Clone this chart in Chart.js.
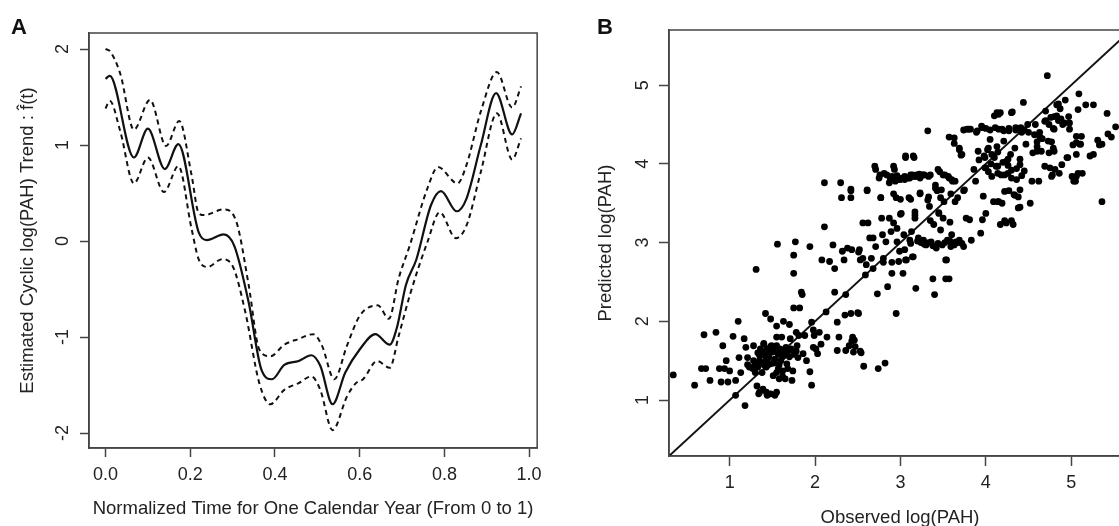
<!DOCTYPE html>
<html>
<head>
<meta charset="utf-8">
<script src="https://cdn.jsdelivr.net/npm/chart.js@4"></script>
<style>
html, body { margin: 0; padding: 0; background: #fff; overflow: hidden; width: 1119px; height: 526px; }
#wrapA { position: absolute; left: 0; top: 0; width: 560px; height: 540px; }
#wrapB { position: absolute; left: 560px; top: 0; width: 600px; height: 540px; }
.panel { position: absolute; font: bold 22px "Liberation Sans", Arial, sans-serif; color: #111; line-height: 1; }
</style>
</head>
<body>
<div id="wrapA"><canvas id="chartA"></canvas></div>
<div id="wrapB"><canvas id="chartB"></canvas></div>
<div class="panel" style="left:11px;top:16px">A</div>
<div class="panel" style="left:597px;top:16px">B</div>
<script>
// ---- panel A : estimated cyclic trend with confidence band ----
const trendX = [0, 0.01, 0.067, 0.10, 0.14, 0.172, 0.22, 0.239, 0.279, 0.304, 0.338, 0.368, 0.393, 0.422, 0.456, 0.486, 0.507, 0.536, 0.566, 0.60, 0.637, 0.671, 0.688, 0.709, 0.734, 0.768, 0.792, 0.829, 0.852, 0.886, 0.922, 0.96, 0.981];
const trendY = [1.69, 1.72, 0.87, 1.17, 0.75, 1.01, 0.09, 0.01, 0.07, -0.05, -0.64, -1.34, -1.44, -1.29, -1.25, -1.19, -1.30, -1.70, -1.37, -1.13, -0.97, -1.08, -0.90, -0.46, -0.19, 0.37, 0.52, 0.31, 0.44, 1.00, 1.54, 1.11, 1.33];

const upperX = [0, 0.01, 0.035, 0.067, 0.105, 0.143, 0.174, 0.203, 0.22, 0.233, 0.279, 0.309, 0.338, 0.363, 0.389, 0.422, 0.456, 0.49, 0.511, 0.54, 0.57, 0.60, 0.643, 0.669, 0.692, 0.718, 0.76, 0.785, 0.831, 0.852, 0.886, 0.924, 0.96, 0.981];
const upperY = [2.0, 1.98, 1.74, 1.16, 1.47, 0.99, 1.25, 0.69, 0.29, 0.27, 0.33, 0.20, -0.46, -1.13, -1.20, -1.08, -1.02, -0.97, -1.09, -1.44, -1.09, -0.78, -0.67, -0.81, -0.39, -0.05, 0.55, 0.77, 0.60, 0.79, 1.35, 1.76, 1.39, 1.61];

const lowerX = [0, 0.01, 0.035, 0.067, 0.10, 0.138, 0.172, 0.203, 0.22, 0.241, 0.275, 0.30, 0.33, 0.363, 0.389, 0.422, 0.456, 0.486, 0.507, 0.536, 0.57, 0.591, 0.608, 0.641, 0.671, 0.692, 0.718, 0.76, 0.789, 0.827, 0.852, 0.886, 0.924, 0.96, 0.981];
const lowerY = [1.38, 1.46, 1.14, 0.60, 0.87, 0.51, 0.78, 0.13, -0.19, -0.27, -0.19, -0.26, -0.74, -1.48, -1.70, -1.55, -1.48, -1.41, -1.55, -1.97, -1.62, -1.48, -1.44, -1.25, -1.32, -0.99, -0.57, -0.01, 0.30, 0.03, 0.16, 0.72, 1.33, 0.85, 1.07];

const aTicksX = [0, 0.2, 0.4, 0.6, 0.8, 1.0];
const aTicksY = [-2, -1, 0, 1, 2];

// ---- panel B : observed vs predicted ----
const obsX = [0.34, 0.59, 0.70, 0.84, 0.67, 0.72, 0.77, 0.88, 0.90, 0.92, 0.94, 0.96, 0.98, 1.00, 1.04, 1.07, 1.07, 1.10, 1.11, 1.13,
  1.17, 1.18, 1.19, 1.21, 1.21, 1.23, 1.28, 1.28, 1.30, 1.32, 1.31, 1.33, 1.34, 1.35, 1.36, 1.37, 1.38, 1.39, 1.40, 1.41,
  1.42, 1.43, 1.42, 1.44, 1.44, 1.46, 1.48, 1.48, 1.49, 1.50, 1.51, 1.53, 1.53, 1.55, 1.55, 1.55, 1.56, 1.57, 1.58, 1.59,
  1.60, 1.61, 1.62, 1.63, 1.64, 1.65, 1.66, 1.67, 1.69, 1.70, 1.71, 1.73, 1.74, 1.75, 1.75, 1.75, 1.77, 1.78, 1.79, 1.80,
  1.81, 1.82, 1.84, 1.85, 1.86, 1.88, 1.90, 1.94, 1.94, 1.96, 1.96, 1.98, 1.98, 1.99, 2.01, 2.03, 2.05, 2.07, 2.08, 2.11,
  2.11, 2.13, 2.14, 2.17, 2.21, 2.23, 2.23, 2.26, 2.26, 2.28, 2.30, 2.31, 2.32, 2.34, 2.35, 2.36, 2.36, 2.38, 2.40, 2.42,
  2.42, 2.43, 2.44, 2.45, 2.46, 2.50, 2.52, 2.53, 2.54, 2.56, 2.57, 2.59, 2.61, 2.62, 2.64, 2.66, 2.68, 2.70, 2.71, 2.73,
  2.74, 2.76, 2.77, 2.78, 2.79, 2.80, 2.82, 2.83, 2.84, 2.85, 2.87, 2.88, 2.89, 2.90, 2.92, 2.92, 2.94, 2.95, 2.96, 2.96,
  2.98, 2.95, 2.99, 3.01, 3.02, 3.03, 3.04, 3.05, 3.06, 3.07, 3.09, 3.10, 3.11, 3.13, 3.14, 3.15, 3.16, 3.17, 3.18, 3.19,
  3.21, 3.23, 3.25, 3.27, 3.30, 3.32, 3.32, 3.34, 3.35, 3.36, 3.38, 3.39, 3.40, 3.41, 3.42, 3.44, 3.45, 3.47, 3.48, 3.49,
  3.51, 3.52, 3.53, 3.54, 3.55, 3.57, 3.57, 3.59, 3.60, 3.61, 3.63, 3.64, 3.65, 3.69, 3.69, 3.72, 3.74, 3.75, 3.77, 3.78,
  3.81, 3.82, 3.83, 3.86, 3.88, 3.89, 3.91, 3.94, 3.95, 3.96, 3.97, 3.99, 4.00, 4.00, 4.03, 4.05, 4.07, 4.09, 4.10, 4.12,
  4.13, 4.14, 4.15, 4.17, 4.18, 4.19, 4.21, 4.22, 4.24, 4.24, 4.26, 4.27, 4.29, 4.30, 4.32, 4.33, 4.34, 4.35, 4.36, 4.38,
  4.40, 4.40, 4.42, 4.44, 4.45, 4.47, 4.49, 4.52, 4.54, 4.55, 4.57, 4.58, 4.62, 4.63, 4.65, 4.69, 4.69, 4.70, 4.72, 4.73,
  4.74, 4.76, 4.78, 4.80, 4.81, 4.83, 4.85, 4.86, 4.88, 4.89, 4.92, 4.93, 4.96, 5.03, 5.06, 5.08, 5.09, 5.11, 5.12, 5.13,
  5.17, 5.26, 5.26, 5.36, 5.36, 5.42, 5.47, 5.52,
  3.12, 3.20, 3.24, 3.28, 3.33, 3.38, 3.44, 3.52, 3.58, 3.63, 3.67, 3.72,
  2.90, 2.96, 3.00, 3.05, 3.12, 3.17, 3.22, 3.28,
  1.35, 1.38, 1.42, 1.45, 1.47, 1.52, 1.40, 1.33, 1.30, 1.27, 1.44, 1.48, 1.53, 1.57, 1.60, 1.62, 1.65, 1.58, 1.55, 1.62,
  1.68, 1.70, 1.72, 1.75, 1.78, 1.35, 1.43, 1.48, 1.55, 1.40,
  4.31, 4.13, 4.17, 4.83, 4.87, 4.80, 4.85, 4.90, 4.97, 4.98, 4.98, 4.70, 4.74, 4.79, 4.63, 4.66, 4.60, 4.60, 4.60, 4.77,
  4.79, 4.80, 5.06, 5.06, 5.02, 5.10, 5.31, 5.33, 5.43, 5.22, 5.06, 4.95, 4.77, 4.75, 5.01, 5.05, 5.08, 4.38, 4.40, 4.34,
  4.30, 4.22, 4.19, 4.15, 4.27,
  3.74, 3.80, 3.90, 3.96, 4.00, 4.05, 4.11, 4.15, 4.21, 4.27, 4.35, 4.41, 4.45, 4.50,
  3.92, 3.98, 4.02, 4.06, 4.10, 4.14, 3.99, 4.03, 4.07, 4.14, 4.20, 4.26, 4.26, 4.30, 4.36, 4.40, 4.42, 4.30, 4.22, 4.14,
  3.57, 3.63, 3.69, 3.71,
  2.71, 2.75, 2.81, 2.87, 2.93, 2.97, 3.05, 3.11, 3.17, 3.23, 3.27, 3.33, 3.46, 3.50, 3.56, 3.60, 3.64,
  3.06, 3.15,
  2.42, 2.61, 2.77, 2.92, 3.00, 3.12, 3.23, 3.33, 3.41, 3.43, 3.47, 3.59, 3.67, 3.74,
  3.00, 3.17, 3.17, 3.35, 3.45, 3.50, 3.58,
  2.42, 2.51, 2.43, 2.47, 2.53, 2.90, 3.06, 3.14, 3.53, 2.51, 2.56, 2.60, 2.68, 2.80];
const predY = [1.32, 1.19, 1.83, 1.86, 1.40, 1.40, 1.25, 1.40, 1.23, 1.69, 1.40, 1.50, 1.23, 1.37, 1.81, 1.25, 1.06, 2.00, 1.54, 1.35,
  1.78, 0.93, 1.67, 1.54, 1.45, 1.42, 1.50, 1.69, 1.35, 1.18, 2.66, 1.42, 1.08, 1.57, 1.65, 1.48, 1.35, 1.14, 1.71, 1.57,
  1.50, 1.42, 2.10, 1.65, 1.06, 1.54, 1.46, 2.03, 1.69, 1.61, 1.31, 1.06, 1.52, 1.80, 1.69, 1.94, 2.98, 1.40, 1.27, 1.65,
  1.50, 1.80, 1.37, 2.00, 1.57, 1.27, 1.67, 1.46, 1.63, 1.96, 1.78, 1.25, 1.37, 2.84, 2.17, 2.61, 3.01, 1.86, 1.69, 1.54,
  1.82, 2.17, 2.37, 2.34, 1.59, 1.82, 1.50, 1.36, 2.95, 1.19, 1.99, 1.89, 1.67, 1.82, 1.65, 1.59, 1.86, 1.71, 2.78, 3.20,
  3.76, 2.12, 1.80, 2.76, 2.97, 2.37, 2.67, 1.99, 1.63, 1.80, 3.76, 3.57, 2.89, 2.78, 2.08, 1.63, 2.34, 2.93, 1.69, 3.57,
  3.68, 2.91, 1.80, 1.61, 1.76, 2.11, 2.91, 2.78, 1.60, 3.25, 1.43, 2.59, 3.67, 3.25, 3.06, 2.80, 3.06, 3.97, 2.95, 2.35,
  1.40, 3.86, 3.57, 3.31, 3.10, 2.80, 1.47, 3.01, 3.86, 2.44, 3.31, 3.82, 3.14, 2.61, 3.25, 3.97, 3.78, 3.57, 3.01, 3.18,
  2.76, 2.10, 2.89, 3.37, 3.82, 2.61, 3.10, 2.91, 4.08, 2.78, 3.82, 3.57, 3.03, 3.14, 3.86, 2.82, 4.08, 3.35, 2.42, 3.86,
  3.06, 3.63, 3.86, 3.03, 2.97, 4.42, 3.54, 3.46, 3.86, 3.01, 2.54, 3.23, 2.34, 3.69, 2.93, 3.93, 3.37, 3.16, 3.67, 2.97,
  3.52, 3.86, 2.54, 2.78, 3.03, 2.54, 3.82, 2.95, 3.10, 3.78, 4.33, 3.52, 3.01, 4.20, 3.03, 4.12, 2.95, 3.67, 3.31, 4.44,
  3.29, 4.44, 3.03, 3.93, 3.78, 4.40, 4.16, 3.12, 4.48, 3.29, 3.59, 4.08, 3.95, 3.37, 4.20, 4.31, 4.12, 3.52, 4.61, 3.97,
  4.22, 3.52, 4.63, 3.23, 3.86, 4.44, 4.29, 3.65, 4.03, 3.25, 3.88, 4.42, 4.12, 4.65, 3.23, 3.61, 4.20, 4.46, 3.80, 3.44,
  3.67, 4.06, 4.40, 4.78, 3.91, 4.25, 4.50, 3.50, 3.78, 4.14, 4.37, 4.50, 3.78, 4.35, 4.16, 4.54, 3.97, 4.67, 5.12, 4.29,
  4.14, 4.59, 3.86, 4.44, 3.93, 4.61, 4.76, 3.88, 4.57, 3.99, 4.52, 4.81, 4.08, 3.78, 3.84, 4.69, 4.89, 4.25, 4.35, 3.88,
  4.75, 4.75, 4.12, 4.25, 3.52, 4.64, 4.34, 4.47,
  2.99, 3.02, 3.00, 2.98, 3.00, 2.96, 2.99, 3.00, 3.02, 2.97, 3.00, 2.99,
  3.84, 3.85, 3.80, 3.84, 3.86, 3.84, 3.87, 3.86,
  1.50, 1.58, 1.62, 1.45, 1.60, 1.47, 1.45, 1.60, 1.45, 1.40, 1.53, 1.68, 1.62, 1.58, 1.62, 1.55, 1.62, 1.45, 1.35, 1.30,
  1.40, 1.55, 1.65, 1.58, 1.62, 1.10, 1.10, 1.08, 1.10, 1.72,
  4.66, 4.65, 4.65, 4.75, 4.70, 4.60, 4.55, 4.50, 4.60, 4.52, 4.44, 4.55, 4.50, 4.45, 4.40, 4.32, 4.28, 4.22, 4.16, 4.28,
  4.20, 4.16, 4.35, 4.27, 4.24, 4.25, 4.30, 4.24, 4.38, 4.10, 4.12, 4.08, 3.84, 3.95, 3.84, 3.78, 3.88, 3.58, 3.45, 3.60,
  3.28, 3.28, 3.50, 3.52, 3.66,
  4.43, 4.44, 4.42, 4.46, 4.45, 4.43, 4.46, 4.44, 4.42, 4.45, 4.43, 4.46, 4.43, 4.40,
  4.05, 4.10, 4.18, 4.00, 4.08, 4.15, 3.95, 3.90, 3.84, 3.97, 4.02, 4.06, 3.98, 3.92, 3.94, 3.99, 3.85, 3.82, 3.86, 3.88,
  4.34, 4.26, 4.18, 4.11,
  3.93, 3.82, 3.88, 3.76, 3.93, 3.80, 3.80, 3.82, 3.84, 3.82, 3.86, 3.84, 3.90, 3.86, 3.84, 3.80, 3.78,
  4.10, 4.10,
  3.66, 3.66, 3.57, 3.62, 3.55, 3.55, 3.62, 3.58, 3.73, 3.66, 3.57, 3.62, 3.57, 3.66,
  3.36, 3.39, 3.31, 3.28, 3.38, 3.31, 3.26,
  2.10, 2.10, 1.75, 1.68, 1.62, 2.75, 2.78, 2.82, 2.78, 2.88, 2.80, 2.72, 2.67, 2.75];

const refLineX = [0.29, 5.70];
const bTicks = [1, 2, 3, 4, 5];

const FONT = '"Liberation Sans", Arial, sans-serif';
const INK = '#222';
const AXIS = '#444';

Chart.defaults.animation = false;
Chart.defaults.font.family = FONT;

// chart area frame (R style box)
const framePlugin = {
  id: 'frame',
  afterDraw(chart) {
    const { ctx, chartArea: a } = chart;
    ctx.save();
    ctx.strokeStyle = AXIS;
    ctx.lineWidth = 1.5;
    ctx.strokeRect(a.left, a.top, a.right - a.left, a.bottom - a.top);
    ctx.restore();
  }
};

function toPoints(xs, ys) {
  return xs.map((x, i) => ({ x: x, y: ys[i] }));
}

function axis(opts) {
  return {
    type: 'linear',
    position: opts.position,
    min: opts.min,
    max: opts.max,
    afterBuildTicks: (scale) => { scale.ticks = opts.ticks.map(v => ({ value: v })); },
    afterFit: (scale) => {
      if (opts.position === 'left') scale.width = opts.size;
      else scale.height = opts.size;
    },
    grid: { drawOnChartArea: false, drawTicks: true, tickLength: opts.tickLength, tickColor: AXIS, tickWidth: 1.5 },
    border: { display: true, color: AXIS, width: 1.5 },
    ticks: {
      color: INK,
      font: { size: 18 },
      padding: opts.tickPad,
      minRotation: opts.position === 'left' ? 90 : 0,
      maxRotation: opts.position === 'left' ? 90 : 0,
      crossAlign: 'center',
      callback: opts.format
    },
    title: {
      display: true,
      text: opts.title,
      color: INK,
      font: { size: 18.5 },
      padding: opts.titlePad
    }
  };
}

new Chart(document.getElementById('chartA'), {
  type: 'line',
  data: {
    datasets: [
      { data: toPoints(trendX, trendY), borderColor: '#111', borderWidth: 2.2, pointRadius: 0, cubicInterpolationMode: 'monotone' },
      { data: toPoints(upperX, upperY), borderColor: '#111', borderWidth: 2, borderDash: [5, 4], pointRadius: 0, cubicInterpolationMode: 'monotone' },
      { data: toPoints(lowerX, lowerY), borderColor: '#111', borderWidth: 2, borderDash: [5, 4], pointRadius: 0, cubicInterpolationMode: 'monotone' }
    ]
  },
  options: {
    responsive: true,
    maintainAspectRatio: false,
    layout: { padding: { top: 33, right: 21, left: 0, bottom: 0 } },
    plugins: { legend: { display: false }, tooltip: { enabled: false } },
    scales: {
      x: axis({ position: 'bottom', min: -0.039, max: 1.019, ticks: aTicksX, size: 92, tickLength: 9, tickPad: 18,
        format: v => v.toFixed(1), title: 'Normalized Time for One Calendar Year (From 0 to 1)', titlePad: { top: 0, bottom: 20 } }),
      y: axis({ position: 'left', min: -2.156, max: 2.167, ticks: aTicksY, size: 89, tickLength: 9, tickPad: 9,
        format: v => String(v), title: 'Estimated Cyclic log(PAH) Trend : f\u0302(t)', titlePad: { top: 17, bottom: 0 } })
    }
  },
  plugins: [framePlugin]
});

new Chart(document.getElementById('chartB'), {
  type: 'scatter',
  data: {
    datasets: [
      { data: toPoints(obsX, predY), backgroundColor: '#000', borderWidth: 0, pointRadius: 3.4, pointHoverRadius: 3.4 },
      { type: 'line', data: toPoints(refLineX, refLineX), borderColor: '#111', borderWidth: 2, pointRadius: 0 }
    ]
  },
  options: {
    responsive: true,
    maintainAspectRatio: false,
    layout: { padding: { top: 30, right: 29, left: 0, bottom: 0 } },
    plugins: { legend: { display: false }, tooltip: { enabled: false } },
    scales: {
      x: axis({ position: 'bottom', min: 0.29, max: 5.70, ticks: bTicks, size: 84, tickLength: 10, tickPad: 17,
        format: v => String(v), title: 'Observed log(PAH)', titlePad: { top: 0, bottom: 11 } }),
      y: axis({ position: 'left', min: 0.29, max: 5.70, ticks: bTicks, size: 109, tickLength: 10, tickPad: 11,
        format: v => String(v), title: 'Predicted log(PAH)', titlePad: { top: 35, bottom: 0 } })
    }
  },
  plugins: [framePlugin]
});
</script>
</body>
</html>
